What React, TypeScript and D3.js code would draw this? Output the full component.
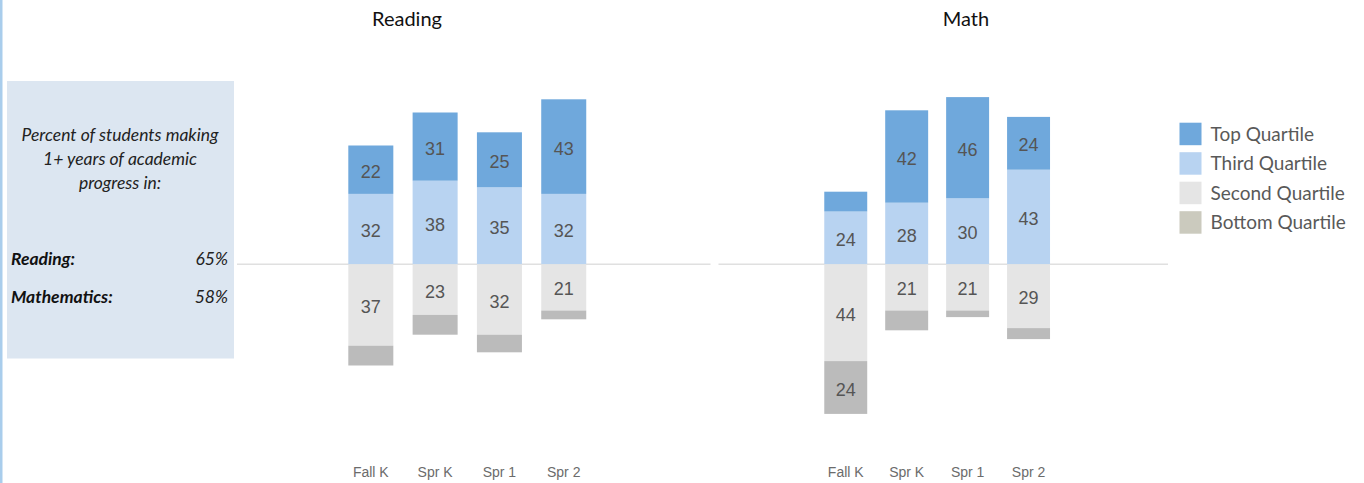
import React from "react";
import * as d3 from "d3";

const categories = ["Fall K", "Spr K", "Spr 1", "Spr 2"];
const seriesNames = ["Top Quartile", "Third Quartile", "Second Quartile", "Bottom Quartile"];

const readingTop = [22, 31, 25, 43];
const readingThird = [32, 38, 35, 32];
const readingSecond = [37, 23, 32, 21];
const readingBottom = [9, 9, 8, 4];

const mathTop = [9, 42, 46, 24];
const mathThird = [24, 28, 30, 43];
const mathSecond = [44, 21, 21, 29];
const mathBottom = [24, 9, 3, 5];

const panelTitles = ["Reading", "Math"];
const summaryLines = ["Percent of students making", "1+ years of academic", "progress in:"];
const summaryLabels = ["Reading:", "Mathematics:"];
const summaryValues = ["65%", "58%"];

const barColors = ["#6fa8dc", "#b8d3f1", "#e5e5e5", "#bbbbbb"];
const legendColors = ["#6fa8dc", "#b8d3f1", "#e5e5e5", "#cbcabe"];

const W = 1364;
const H = 483;
const CAL = "Lato, 'Open Sans', sans-serif";
const ARIAL = "'Liberation Sans', Arial, sans-serif";

const y = d3.scaleLinear().domain([-70, 80]).range([264.3 + 70 * 2.2, 264.3 - 80 * 2.2]);

type PanelProps = {
  title: string;
  titleX: number;
  top: number[];
  third: number[];
  second: number[];
  bottom: number[];
  range: [number, number];
  padInner: number;
  lineRange: [number, number];
};

function Panel({ title, titleX, top, third, second, bottom, range, padInner, lineRange }: PanelProps) {
  const x = d3.scaleBand<string>().domain(categories).range(range).paddingInner(padInner).paddingOuter(0.5);
  const bw = x.bandwidth();
  const segs: { key: string; x: number; y0: number; y1: number; v: number; c: string }[] = [];
  categories.forEach((cat, i) => {
    const xi = x(cat)!;
    segs.push({ key: cat + "t3", x: xi, y0: 0, y1: third[i], v: third[i], c: barColors[1] });
    segs.push({ key: cat + "t4", x: xi, y0: third[i], y1: third[i] + top[i], v: top[i], c: barColors[0] });
    segs.push({ key: cat + "t2", x: xi, y0: 0, y1: -second[i], v: second[i], c: barColors[2] });
    segs.push({ key: cat + "t1", x: xi, y0: -second[i], y1: -second[i] - bottom[i], v: bottom[i], c: barColors[3] });
  });
  return (
    <g>
      <line x1={lineRange[0]} x2={lineRange[1]} y1={y(0)} y2={y(0)} stroke="#e0e0e0" strokeWidth={1.5} />
      {segs.map((s) => {
        const ya = Math.min(y(s.y0), y(s.y1));
        const h = Math.abs(y(s.y0) - y(s.y1));
        return <rect key={s.key} x={s.x} y={ya} width={bw} height={h} fill={s.c} />;
      })}
      {segs
        .filter((s) => s.v >= 12)
        .map((s) => (
          <text
            key={s.key + "l"}
            x={s.x + bw / 2}
            y={(y(s.y0) + y(s.y1)) / 2 + 8}
            textAnchor="middle"
            fontFamily={ARIAL}
            fontSize={18}
            fill="#555555"
          >
            {s.v}
          </text>
        ))}
      {categories.map((cat) => (
        <text
          key={cat + "ax"}
          x={x(cat)! + bw / 2}
          y={477}
          textAnchor="middle"
          fontFamily={ARIAL}
          fontSize={14}
          fill="#6b6b6b"
        >
          {cat}
        </text>
      ))}
      <text x={titleX} y={26} textAnchor="middle" fontFamily={CAL} fontSize={20} fill="#111">
        {title}
      </text>
    </g>
  );
}

export default function App() {
  return (
    <svg width={W} height={H} style={{ position: "absolute", left: 0, top: 0, background: "#fff" }}>
      <rect x={0} y={0} width={2.5} height={H} fill="#a9cdec" />
      <rect x={7} y={81} width={227} height={277.5} fill="#dce6f1" />
      {summaryLines.map((t, i) => (
        <text
          key={t}
          x={120}
          y={140.5 + i * 24.3}
          textAnchor="middle"
          fontFamily={CAL}
          fontStyle="italic"
          fontSize={17.5}
          fill="#222"
        >
          {t}
        </text>
      ))}
      {summaryLabels.map((t, i) => (
        <g key={t}>
          <text x={11} y={265 + i * 38.3} fontFamily={CAL} fontStyle="italic" fontWeight="bold" fontSize={17.5} fill="#111">
            {t}
          </text>
          <text x={228} y={265 + i * 38.3} textAnchor="end" fontFamily={CAL} fontStyle="italic" fontSize={17.5} fill="#222">
            {summaryValues[i]}
          </text>
        </g>
      ))}
      <Panel
        title={panelTitles[0]}
        titleX={407}
        top={readingTop}
        third={readingThird}
        second={readingSecond}
        bottom={readingBottom}
        range={[316.15, 618.4]}
        padInner={0.3}
        lineRange={[237, 710.5]}
      />
      <Panel
        title={panelTitles[1]}
        titleX={966}
        top={mathTop}
        third={mathThird}
        second={mathSecond}
        bottom={mathBottom}
        range={[793.8, 1080.5]}
        padInner={0.295}
        lineRange={[718.5, 1168]}
      />
      {seriesNames.map((n, i) => (
        <g key={n}>
          <rect x={1179.5} y={122.7 + i * 29.5} width={22} height={22.5} fill={legendColors[i]} />
          <text x={1210.5} y={140.7 + i * 29.5} fontFamily={CAL} fontSize={19} fill="#595959">
            {n}
          </text>
        </g>
      ))}
    </svg>
  );
}
